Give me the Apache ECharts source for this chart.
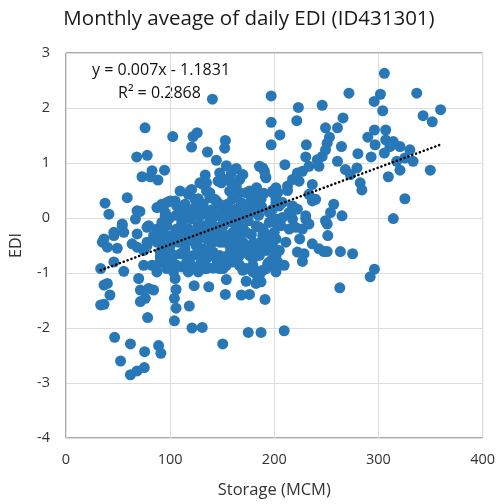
<!DOCTYPE html>
<html>
<head>
<meta charset="utf-8">
<script src="https://cdn.jsdelivr.net/npm/echarts@6/dist/echarts.min.js"></script>
<style>
  html, body { margin: 0; padding: 0; background: #fff; }
  #chart { width: 498px; height: 504px; }
</style>
</head>
<body>
<div id="chart"></div>
<script>
// Monthly mean storage (MCM) and the matching monthly mean of daily EDI
const storage = [
  140.6,197,197,197,75.9,102.5,122,126,120.6,153,152.4,135.9,67.9,78,144.4,73,81,88.3,94.6,82.6,
  133.7,154,163.5,158.7,152.4,166.7,185.7,190.5,192,58.8,37.5,41.2,68.2,66.7,90.5,96.8,109.5,120.6,128.6,173,
  177.8,168.3,179.4,198.4,201.6,54,46,36.5,
  305.7,271.7,301.9,295.9,304.1,336.8,223.1,246,221.6,205.4,266,249.2,260.7,253,250.8,249.2,246,241.3,242.9,264.5,
  230.8,230.2,233.3,227,222.2,217.5,212.7,210.2,188.9,191.4,187.3,260.7,268.3,279.4,273,280.3,293,296.2,307,289.8,
  296.8,307,314.3,320.7,305.7,311.1,330.2,325.4,333.3,317.5,320.7,342.9,351.7,359.7,349.8,309.5,325.4,314.3,282.5,284.1,
  257.1,265,249.2,254,250.8,251.4,230.2,233.3,227,217.5,214.3,207.9,198.4,203.2,
  236.5,224.4,236.5,242.9,247.6,250.8,263.5,275.2,222.2,228.6,227,296.2,292.1,262.9,191.1,187.3,209.5,216,217.5,214.3,
  206.4,201.6,200,201.6,190.5,188.9,192.1,200,204.8,203.2,209.5,201.6,193.7,188.9,185.7,187.3,222.2,230.2,204.8,198.4,195.2,
  33.3,36.5,39.7,42.2,33.3,36.5,46,55.5,34.9,39.7,49.2,46,55.5,54,63.5,68.3,79.4,69.8,71.4,79.4,
  84.1,76.2,71.4,78.4,46.7,61.9,52.4,75.5,88.9,91.1,61.9,68.3,75.2,104.8,105.7,104.1,105.7,104.1,118.4,123.1,
  121,130.8,137.1,153,150.5,154,168.3,176.2,173,182.5,175,
  71,87.3,92.1,104.8,117.4,114.3,123.8,
  169.8,147.6,146,149.2,157.1,163.5,166.7,157.1,181,223.8,236.5,239.7,131.7,134.9,138.1,144.4,150.8,131.7,
  68.3,74.6,77.8,87.3,85.7,92.1,95.2,98.4,87.3,93.6,100,90.5,82.6,87.3,96.8,90.5,101.6,104.8,104.8,111.1,
  114.3,117.5,123.8,127,120.6,114.3,107.9,114.3,122.2,117.5,111.1,117.5,120.6,127,131.7,
  128.6,131.7,138.1,147.6,154,160.3,163.5,147.6,154,160.3,166.7,147.6,157.1,163.5,169.8,173,176.2,179.4,182.5,141.3,
  134.9,131.7,144.4,152.4,160.3,166.7,173,134.9,141.3,147.6,169.8,181,182.5,184.1,195.2,201.6,204.8,211.1,198.4,192.1,
  188.9,185.7,195.2,201.6,207.9,220.6,
  150.8,154,179.4,125.4,115.9,103.2,100,103.2,96.8,93.6,100,96.8,90.5,84.1,90.5,
  233.3,212.7,201.6,
  140,145,155,160,162,170,175,185,188,183,190,137,127,122,118,110,106,112,130,138,
  142,150,165,170,178,175,180,186,157,165,140,125,110,130,
  134.9,160.3,119,123.8,138.1,142.9,147.6,176.2,185.7,182.6,176.2,201.6,
  100,106.3,95.2,112.7,115.9,111.1,128.6,134.9,141.3,147.6,154,166.7,160.3,150.8,138.1,128.6,100,96.8,
  90.5,84.1,77.8,106.3,112.7,122.2,131.7,144.5,163.5,173,182.6,188.9,195.2,187.3,179.4,169.8,160.3,150.8,141.3,134.9,
  125.4,115.9,106.3,100,96.8,90.5,103.2,112.7,128.6,138.1,147.6,157.1,166.7,176.2,185.7,198.4,77.8,
  74.6,87.3,106.3,119,134.9,144.5,154,166.7,179.4,192.1,201.6
];
const edi = [
  2.16,2.22,1.74,1.33,1.64,1.48,1.48,1.55,1.29,1.41,1.27,1.2,1.11,1.14,1.05,0.75,0.75,0.69,0.87,0.86,
  0.78,0.95,0.9,0.82,0.7,0.7,0.94,0.85,0.73,0.37,0.27,0.07,0.13,-0.02,0.22,0.28,0.49,0.52,0.64,0.46,
  0.37,0.28,0.16,0.49,0.34,-0.11,-0.26,-0.38,
  2.63,2.27,2.25,2.12,1.95,2.27,2.01,2.05,1.77,1.51,1.82,1.64,1.64,1.47,1.36,1.24,1.12,1.06,0.94,1.3,
  1.33,1.11,0.94,0.85,0.82,0.7,0.58,0.97,0.91,0.76,0.34,1.03,0.88,0.91,0.79,1.17,1.11,1.6,1.6,1.47,
  1.33,1.42,1.39,1.3,1.18,1.3,1.24,1.09,1.03,1.03,0.87,1.86,1.75,1.97,0.87,0.75,0.35,-0.01,0.64,0.51,
  0.25,0.04,-0.05,0.1,-0.11,-0.32,-0.02,-0.11,-0.2,0.22,0.1,0.28,0.46,0.46,
  0.31,-0.38,-0.47,-0.56,-0.61,-0.61,-0.61,-0.65,-0.62,-0.65,-0.79,-0.93,-1.07,-1.27,-1.48,-2.08,-2.05,0.07,-0.02,-0.2,
  -0.14,-0.08,-0.26,-0.38,-0.26,-0.44,-0.59,-0.56,-0.59,-0.8,-0.86,-0.92,-0.83,-0.95,-1.04,-1.16,0.16,0.04,0.22,0.16,0.1,
  -0.92,-1.22,-1.19,-1.4,-1.58,-1.57,-0.8,-0.97,-0.44,-0.53,-0.55,-0.32,-0.26,-0.14,-0.47,-0.29,-0.14,-1.1,-1.31,-1.28,
  -1.31,-1.46,-1.52,-1.81,-2.17,-2.29,-2.6,-2.43,-2.32,-2.46,-2.85,-2.78,-2.72,-1.1,-1.3,-1.46,-1.64,-1.87,-1.6,-1.23,
  -2.0,-1.99,-1.25,-1.39,-2.29,-1.12,-1.4,-1.39,-1.15,-1.19,-2.08,
  0.12,0.19,0.25,0.31,0.43,0.25,0.19,
  0.79,0.82,0.67,0.64,0.67,0.58,0.46,0.49,0.43,0.67,0.61,0.34,0.61,0.49,0.37,0.31,0.19,0.25,
  -0.53,-0.59,-0.5,-0.2,-0.35,-0.08,0.04,-0.02,-0.44,-0.53,-0.62,-0.71,-0.86,-0.98,-0.92,-0.8,-0.74,-0.89,-0.26,-0.23,
  -0.38,-0.2,-0.29,-0.14,-0.02,0.04,-0.44,-0.56,-0.68,-0.77,-0.89,-0.98,-0.86,-0.98,-0.92,
  0.04,-0.14,-0.02,0.04,-0.08,0.04,0.16,-0.26,-0.32,-0.26,-0.38,-0.44,-0.5,-0.56,-0.62,-0.5,-0.68,-0.74,-0.62,-0.62,
  -0.74,-0.56,-0.74,-0.74,-0.8,-0.86,-0.92,-0.89,-0.91,-0.92,-0.95,-0.95,-1.01,-1.13,-0.8,-0.68,-0.86,-0.44,-0.5,-0.44,
  -0.32,-0.17,-0.08,-0.02,0.01,-0.17,
  -0.92,-0.8,-0.98,-0.92,-0.8,-0.98,-0.86,-0.68,-0.74,-0.62,-0.5,-0.32,-0.44,-0.38,-0.26,
  0.43,0.5,0.55,
  0.15,0.05,0.25,0.35,0.15,0.1,0.25,0.05,0.2,0.55,0.45,0.1,0.35,0.05,0.1,0.12,0.05,-0.1,-0.35,-0.3,
  -0.15,-0.12,-0.1,-0.2,-0.3,-0.05,-0.45,-0.6,-0.65,-0.72,-0.45,-0.5,-0.65,-0.8,
  0.64,0.64,0.49,0.34,0.46,0.34,0.25,0.49,0.37,0.22,0.07,0.28,
  0.31,0.22,0.1,0.16,0.04,-0.08,0.16,0.1,0.01,0.07,0.1,-0.02,-0.08,-0.14,-0.14,-0.14,0.01,-0.14,
  -0.23,-0.32,-0.17,-0.2,-0.26,-0.32,-0.23,-0.29,-0.23,-0.26,-0.14,-0.2,-0.32,-0.44,-0.5,-0.44,-0.44,-0.44,-0.44,-0.38,
  -0.47,-0.44,-0.41,-0.38,-0.56,-0.62,-0.68,-0.62,-0.65,-0.62,-0.68,-0.65,-0.68,-0.62,-0.68,-0.74,-0.44,
  -0.86,-0.86,-0.86,-0.86,-0.92,-0.86,-0.86,-0.86,-0.86,-0.92,-0.98
];

// Linear trend fitted to the series
const slope = 0.007;
const intercept = -1.1831;
const rSquared = 0.2868;

const xTicks = { min: 0, max: 400, step: 100 };
const yTicks = { min: -4, max: 3, step: 1 };

const points = storage.map((s, i) => [s, edi[i]]);
const xLo = Math.min(...storage);
const xHi = Math.max(...storage);
const trend = [[xLo, slope * xLo + intercept], [xHi, slope * xHi + intercept]];

const font = 'Open Sans, Noto Sans, sans-serif';
const chart = echarts.init(document.getElementById('chart'), null, { renderer: 'canvas' });
chart.setOption({
  animation: false,
  backgroundColor: '#ffffff',
  title: {
    text: 'Monthly aveage of daily EDI (ID431301)',
    left: 'center',
    top: 4,
    textStyle: { fontFamily: font, fontSize: 20.5, fontWeight: 'normal', color: '#1a1a1a' }
  },
  grid: {
    left: 65, right: 13, top: 53, bottom: 64,
    show: true, borderColor: '#595959', borderWidth: 1, containLabel: false
  },
  xAxis: {
    type: 'value',
    min: xTicks.min, max: xTicks.max, interval: xTicks.step,
    name: 'Storage (MCM)', nameLocation: 'middle', nameGap: 44,
    nameTextStyle: { fontFamily: font, fontSize: 16.5, color: '#333' },
    axisLine: { show: false },
    axisTick: { show: false },
    axisLabel: { fontFamily: font, fontSize: 14.5, color: '#333', margin: 14 },
    splitLine: { show: true, lineStyle: { color: '#dddddd', width: 1 } }
  },
  yAxis: {
    type: 'value',
    min: yTicks.min, max: yTicks.max, interval: yTicks.step,
    name: 'EDI', nameLocation: 'middle', nameGap: 42, nameRotate: 90,
    nameTextStyle: { fontFamily: font, fontSize: 16, color: '#333' },
    axisLine: { show: false },
    axisTick: { show: false },
    axisLabel: { fontFamily: font, fontSize: 14.5, color: '#333', margin: 16 },
    splitLine: { show: true, lineStyle: { color: '#dddddd', width: 1 } }
  },
  series: [
    {
      type: 'scatter',
      data: points,
      symbolSize: 11,
      itemStyle: { color: '#2878b8', opacity: 1 }
    },
    {
      type: 'line',
      data: trend,
      symbol: 'none',
      z: 5,
      lineStyle: { color: '#000', width: 2.5, type: [0.1, 4], cap: 'round' }
    }
  ],
  graphic: [
    {
      type: 'text', left: 92, top: 62,
      style: { text: 'y = 0.007x - 1.1831', fontFamily: font, fontSize: 16, fill: '#111' }
    },
    {
      type: 'text', left: 118, top: 85,
      style: { text: 'R² = ' + rSquared.toFixed(4), fontFamily: font, fontSize: 16, fill: '#111' }
    }
  ]
});
</script>
</body>
</html>
